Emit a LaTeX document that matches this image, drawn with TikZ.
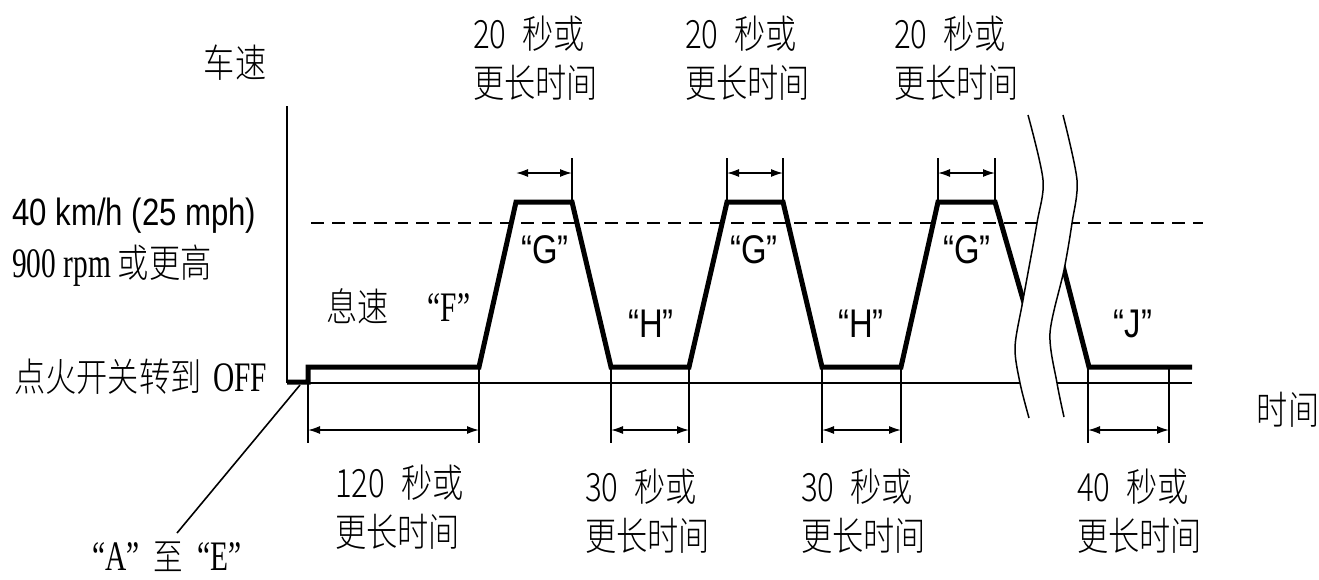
\documentclass[tikz,border=0pt]{standalone}
\usepackage{fontspec}
\usetikzlibrary{arrows.meta}
\IfFontExistsTF{Noto Sans CJK SC Light}
  {\newfontfamily\cjk[FakeStretch=0.8]{Noto Sans CJK SC Light}}
  {\newfontfamily\cjk[FakeStretch=0.8]{Noto Sans CJK SC}}
\newfontfamily\sansn[FakeStretch=0.82]{Liberation Sans}
\newfontfamily\serifn[FakeStretch=0.7]{Liberation Serif}
\newcommand{\lat}[1]{{\serifn\fontsize{42}{49}\selectfont #1}}
\newcommand{\gap}{\hspace{16pt}}
\tikzset{
  cjklbl/.style={inner sep=0pt, font=\cjk\fontsize{39}{49}\selectfont, align=left},
  qlbl/.style={inner sep=0pt, font=\sansn\fontsize{40}{48}\selectfont},
  trace/.style={line width=5pt, line join=miter, line cap=butt},
  baseln/.style={line width=2.2pt},
  tickln/.style={line width=1.5pt},
  dimarrow/.style={line width=1.5pt, {Latex[length=12pt,width=8pt]}-{Latex[length=12pt,width=8pt]}},
  wave/.style={line width=1.5pt},
  refdash/.style={line width=2pt, dash pattern=on 13pt off 8pt}
}
\begin{document}
\begin{tikzpicture}[x=1pt,y=-1pt]
\useasboundingbox (0,0) rectangle (1319,579);
% axis
\coordinate (axtop) at (287,106);
\coordinate (axbot) at (287,383);
\draw[baseln] (axtop) -- (axbot);
% baseline
\coordinate (b0) at (287,383);
\coordinate (b1) at (1030,383);
\coordinate (b2) at (1050,383);
\coordinate (b3) at (1192,383);
\draw[baseln] (b0) -- (b1);
\draw[baseln] (b2) -- (b3);
% dashed reference
\coordinate (d0) at (311,223);
\coordinate (d1) at (1203,223);
\draw[refdash] (d0) -- (d1);
% ticks
\foreach \x/\t/\n in {308/367/a,479/367/b,611/367/c,689/367/d,822/367/e,901/367/f,1088/367/g,1169/367/h}{
  \coordinate (tk\n1) at (\x,\t);
  \coordinate (tk\n2) at (\x,443);
  \draw[tickln] (tk\n1) -- (tk\n2);
}
\foreach \x/\n in {572/a,727/b,783/c,938/d,995/e}{
  \coordinate (tt\n1) at (\x,158);
  \coordinate (tt\n2) at (\x,202);
  \draw[tickln] (tt\n1) -- (tt\n2);
}
% dimension arrows
\coordinate (ua0) at (516,173); \coordinate (ua1) at (572,173);
\coordinate (ub0) at (727,173); \coordinate (ub1) at (783,173);
\coordinate (uc0) at (938,173); \coordinate (uc1) at (995,173);
\draw[dimarrow] (ua0) -- (ua1);
\draw[dimarrow] (ub0) -- (ub1);
\draw[dimarrow] (uc0) -- (uc1);
\coordinate (la0) at (308,430); \coordinate (la1) at (479,430);
\coordinate (lb0) at (611,430); \coordinate (lb1) at (689,430);
\coordinate (lc0) at (822,430); \coordinate (lc1) at (901,430);
\coordinate (ld0) at (1088,430); \coordinate (ld1) at (1169,430);
\draw[dimarrow] (la0) -- (la1);
\draw[dimarrow] (lb0) -- (lb1);
\draw[dimarrow] (lc0) -- (lc1);
\draw[dimarrow] (ld0) -- (ld1);
% speed trace
\coordinate (p0) at (287,382);
\coordinate (p1) at (308,382);
\coordinate (p2) at (308,367);
\coordinate (p3) at (479,367);
\coordinate (p4) at (516,202);
\coordinate (p5) at (572,202);
\coordinate (p6) at (611,367);
\coordinate (p7) at (689,367);
\coordinate (p8) at (727,202);
\coordinate (p9) at (783,202);
\coordinate (p10) at (822,367);
\coordinate (p11) at (901,367);
\coordinate (p12) at (938,202);
\coordinate (p13) at (995,202);
\coordinate (p14) at (1026,310);
\coordinate (q0) at (1062,262);
\coordinate (q1) at (1089,367);
\coordinate (q2) at (1192,367);
\draw[trace] (p0) -- (p1) -- (p2) -- (p3) -- (p4) -- (p5) -- (p6) -- (p7) -- (p8) -- (p9) -- (p10) -- (p11) -- (p12) -- (p13) -- (p14);
\draw[trace] (q0) -- (q1) -- (q2);
% break mask and wavy lines
\fill[white] plot[smooth] coordinates {(1028,115) (1043,180) (1037,223) (1023,300) (1015,347) (1020,383) (1029,418)}
  -- plot[smooth] coordinates {(1064,417) (1057,383) (1050,333) (1064,270) (1072,223) (1077,180) (1063,115)} -- cycle;
\draw[wave] plot[smooth] coordinates {(1028,115) (1043,180) (1037,223) (1023,300) (1015,347) (1020,383) (1029,418)};
\draw[wave] plot[smooth] coordinates {(1063,115) (1077,180) (1072,223) (1064,270) (1050,333) (1057,383) (1064,417)};
% leader
\node[inner sep=0pt, font=\cjk\fontsize{37}{45}\selectfont] (ae) at (167,557) {\lat{“A”}\hspace{14pt}至\hspace{14pt}\lat{“E”}};
\coordinate (lead0) at (300,385);
\coordinate (lead1) at (177,533);
\draw[line width=1.6pt] (lead0) -- (lead1);
% labels
\node[cjklbl] (vs) at (235,63) {车速};
\node[cjklbl] (tm) at (1288,410) {时间};
\node[cjklbl, anchor=west] (u1) at (473,58) {20\gap 秒或\\更长时间};
\node[cjklbl, anchor=west] (u2) at (685,58) {20\gap 秒或\\更长时间};
\node[cjklbl, anchor=west] (u3) at (894,58) {20\gap 秒或\\更长时间};
\node[cjklbl, anchor=west] (l1) at (335,507) {120\gap 秒或\\更长时间};
\node[cjklbl, anchor=west] (l2) at (585,511) {30\gap 秒或\\更长时间};
\node[cjklbl, anchor=west] (l3) at (801,511) {30\gap 秒或\\更长时间};
\node[cjklbl, anchor=west] (l4) at (1077,511) {40\gap 秒或\\更长时间};
\node[inner sep=0pt, anchor=west, font=\sansn\fontsize{38}{46}\selectfont] (kmh) at (12,216) {40 km/h (25 mph)};
\node[cjklbl, anchor=west] (rpm) at (12,266) {\lat{900 rpm} 或更高};
\node[cjklbl, anchor=west] (off) at (14,377) {点火开关转到\hspace{12pt}\lat{OFF}};
\node[cjklbl, anchor=west] (idle) at (326,306) {息速\quad\lat{“F”}};
\node[qlbl] (g1) at (545,250) {“G”};
\node[qlbl] (g2) at (754,250) {“G”};
\node[qlbl] (g3) at (967,250) {“G”};
\node[qlbl] (h1) at (651,324) {“H”};
\node[qlbl] (h2) at (861,324) {“H”};
\node[qlbl] (j1) at (1133,324) {“J”};
\end{tikzpicture}
\end{document}
